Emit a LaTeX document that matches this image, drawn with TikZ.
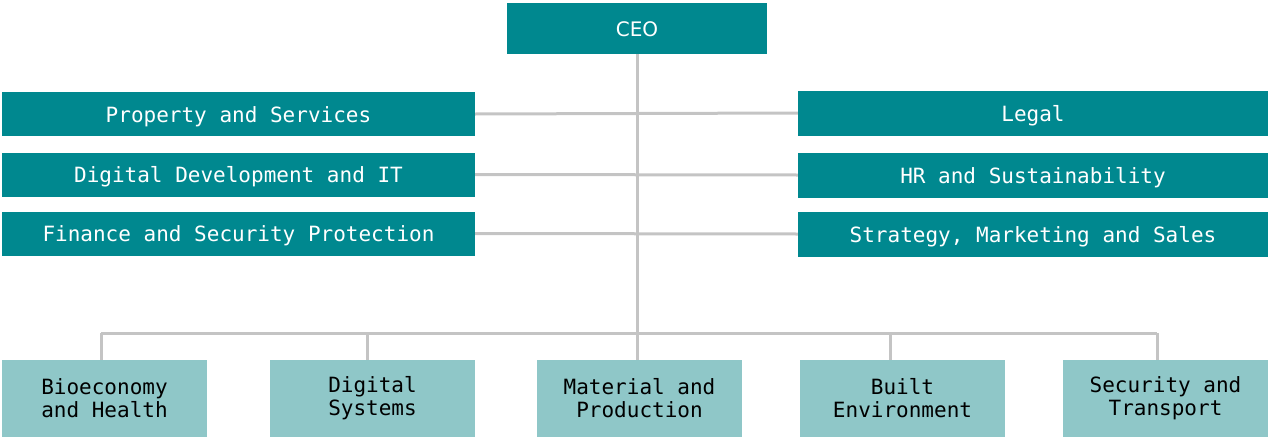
\documentclass[tikz,border=0pt]{standalone}
\usepackage{fontspec}
\setmonofont{DejaVu Sans Mono}
\setsansfont{DejaVu Sans}
\usepackage{tikz}
\definecolor{teal dark}{HTML}{00888F}
\definecolor{teal light}{HTML}{8FC7C8}
\definecolor{link gray}{HTML}{C4C4C4}
\tikzset{
	unit/.style={fill=teal dark,text=white,inner sep=0pt,text height=16pt,text depth=0pt,font=\ttfamily\fontsize{21}{23}\selectfont},
	dept/.style={fill=teal light,text=black,inner sep=0pt,align=center,minimum width=205pt,minimum height=77pt,font=\ttfamily\fontsize{21}{23}\selectfont},
	link/.style={draw=link gray,line width=3pt}
}

\begin{document}
\begin{tikzpicture}[x=1pt,y=-1pt]
	\useasboundingbox (0,0) rectangle (1268,439);
	\node[unit,minimum width=260pt,minimum height=51pt,font=\sffamily\fontsize{20}{23}\selectfont] (ceo) at (637,28.5) {CEO};
	% staff units, left and right
	\foreach \name/\y [count=\i] in {Property and Services/114,Digital Development and IT/174.5,Finance and Security Protection/233.5}
		\node[unit,minimum width=473pt,minimum height=44pt] (l\i) at (238.5,\y) {\name};
	\foreach \name/\y [count=\i] in {Legal/113,HR and Sustainability/175,{Strategy, Marketing and Sales}/234}
		\node[unit,minimum width=470pt,minimum height=45pt] (r\i) at (1033,\y) {\name};
	% departments
	\foreach \name/\x/\d [count=\i] in {Bioeconomy\\and Health/104.5/101,Digital\\Systems/372.5/367,Material and\\Production/639.5/637,Built\\Environment/902.5/890,Security and\\Transport/1165.5/1157} {
		\node[dept] (b\i) at (\x,398.5) {\name};
		\coordinate (d\i) at (\d,333);
	}
	% links
	\foreach \i in {1,...,3}
		\draw[link] (l\i.east) -- (r\i.west);
	\draw[link] (ceo.south) -- (ceo.south |- d3);
	\draw[link] (d1) -- (d5);
	\foreach \i in {1,...,5}
		\draw[link] (d\i) -- (d\i |- b\i.north);
\end{tikzpicture}
\end{document}
